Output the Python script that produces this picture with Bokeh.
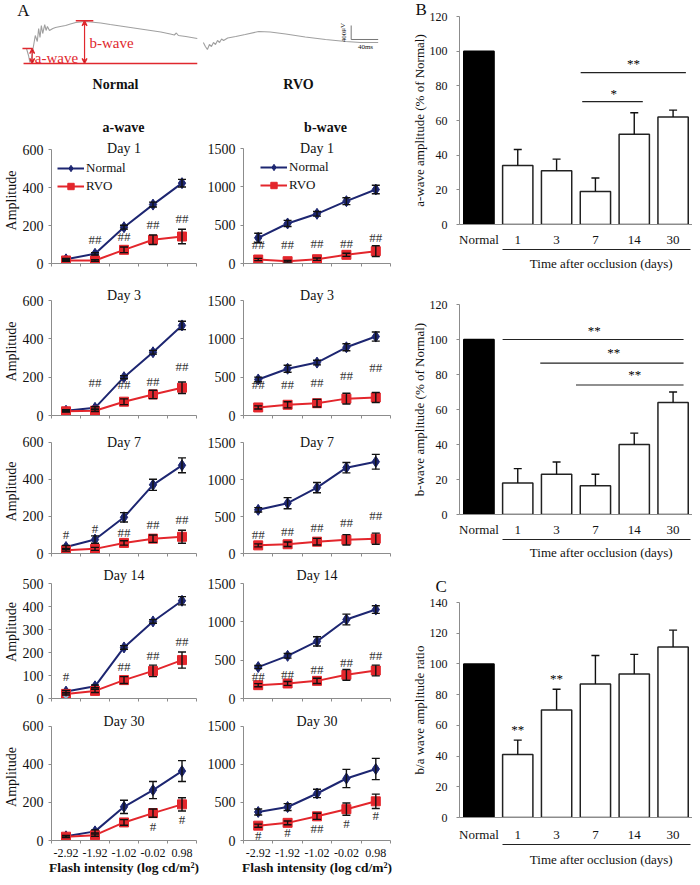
from bokeh.plotting import figure
from bokeh.layouts import row, column
from bokeh.models import (Range1d, FixedTicker, Label, Arrow, VeeHead,
                          Legend, LegendItem, LinearAxis, Title)
from bokeh.core.properties import value
from bokeh.embed import file_html
from bokeh.resources import INLINE

FONT = "Liberation Serif"
NAVY = "#1d2671"
RED = "#e3262c"
AX = "#8c8c8c"
INK = "#111111"
TRACE = "#a0a0a0"
ANNOT = "#e0282e"

# ---------------------------------------------------------------- data
intensity = ["-2.92", "-1.92", "-1.02", "-0.02", "0.98"]
days = [1, 3, 7, 14, 30]

a_normal = {1: [22, 51, 191, 310, 423], 3: [25, 40, 200, 330, 470], 7: [35, 75, 195, 370, 475],
            14: [30, 53, 222, 335, 425], 30: [22, 48, 177, 265, 365]}
a_normal_err = {1: [5, 6, 10, 13, 20], 3: [5, 6, 8, 10, 22], 7: [8, 20, 25, 30, 40],
                14: [5, 6, 8, 8, 18], 30: [5, 8, 35, 45, 55]}
a_rvo = {1: [16, 16, 72, 125, 142], 3: [22, 25, 72, 110, 145], 7: [18, 25, 57, 80, 90],
         14: [20, 33, 80, 120, 167], 30: [20, 28, 95, 144, 190]}
a_rvo_err = {1: [4, 4, 15, 25, 38], 3: [4, 5, 15, 22, 30], 7: [5, 8, 12, 20, 35],
             14: [5, 7, 15, 25, 35], 30: [5, 6, 15, 22, 35]}
a_sig = {1: ["", "##", "##", "##", "##"], 3: ["", "##", "##", "##", "##"], 7: ["#", "#", "##", "##", "##"],
         14: ["#", "", "##", "##", "##"], 30: ["", "", "", "#", "#"]}
a_sig_y = {1: [0, 126, 140, 205, 235], 3: [0, 170, 160, 180, 255], 7: [104, 135, 113, 156, 182],
           14: [94, 0, 140, 186, 249], 30: [0, 0, 0, 75, 113]}
a14_stray = [2]

b_normal = {1: [335, 522, 648, 813, 965], 3: [470, 610, 690, 890, 1030], 7: [590, 680, 890, 1160, 1240],
            14: [410, 556, 745, 1030, 1160], 30: [375, 440, 618, 815, 940]}
b_normal_err = {1: [60, 40, 30, 45, 55], 3: [30, 45, 30, 45, 60], 7: [30, 75, 70, 70, 100],
                14: [20, 30, 60, 70, 50], 30: [40, 45, 55, 120, 140]}
b_rvo = {1: [52, 30, 56, 113, 161], 3: [105, 140, 160, 220, 235], 7: [110, 125, 160, 185, 200],
         14: [174, 196, 230, 309, 365], 30: [195, 232, 318, 412, 515]}
b_rvo_err = {1: [15, 10, 15, 20, 70], 3: [20, 40, 50, 70, 65], 7: [20, 30, 45, 70, 75],
             14: [20, 25, 35, 70, 70], 30: [20, 25, 40, 80, 95]}
b_sig = {1: ["##"] * 5, 3: ["##"] * 5, 7: ["##"] * 5, 14: ["##"] * 5, 30: ["#", "#", "##", "#", "#"]}
b_sig_y = {1: [248, 248, 265, 256, 335], 3: [400, 408, 430, 528, 631], 7: [258, 294, 357, 425, 507],
           14: [283, 317, 383, 470, 557], 30: [69, 103, 155, 219, 326]}

groups = ["Normal", "1", "3", "7", "14", "30"]
a_pct = [100, 34, 31, 19, 52, 62]
a_pct_err = [0, 9.3, 6.7, 7.8, 12.5, 4]
b_pct = [100, 18, 23, 16.5, 40, 64]
b_pct_err = [0, 8.2, 7, 6.5, 6.5, 6]
ba_ratio = [100, 41, 70, 87, 93.5, 111]
ba_ratio_err = [0, 9.4, 13.5, 18.5, 12.7, 11]

# ERG traces (time in ms from flash, amplitude in microvolts)
normal_t = [0, 3, 5, 7, 10, 13, 16, 18, 20, 22, 24, 27, 29, 31, 34, 39, 43, 50, 58, 65, 73, 80, 87,
            95, 110, 124, 139, 154, 169, 184, 199, 213, 219, 222, 225, 236, 253]
normal_uv = [429, 229, 29, 114, 457, 800, 629, 1000, 743, 1086, 857, 1114, 943, 1057, 943, 1000,
             1029, 1057, 1086, 1129, 1171, 1186, 1200, 1186, 1157, 1114, 1071, 1029, 986, 943,
             900, 843, 814, 871, 800, 771, 714]
rvo_t = [262, 265, 268, 271, 274, 277, 280, 283, 286, 289, 292, 298, 310, 324, 344, 361, 384, 413,
         443, 473, 495, 521]
rvo_uv = [600, 486, 400, 543, 486, 600, 543, 657, 600, 700, 657, 729, 771, 829, 914, 900, 843,
          757, 686, 629, 600, 600]
scale_ms = 40
scale_uv = 400


def style(p, size="14px"):
    for ax in p.axis:
        ax.axis_line_color = AX
        ax.major_tick_line_color = AX
        ax.minor_tick_line_color = None
        ax.major_tick_in = 0
        ax.major_tick_out = 3
        ax.major_label_text_font = FONT
        ax.major_label_text_font_size = size
        ax.major_label_text_color = INK
        ax.axis_label_text_font = FONT
        ax.axis_label_text_font_style = "normal"
        ax.axis_label_text_color = INK
    p.xgrid.visible = False
    p.ygrid.visible = False
    p.outline_line_color = None


TOP = 3  # reference pixel row that the page content starts on

# ---------------------------------------------------------------- panel A header
PX_MS, PX_UV, X0, Y0 = 0.675, 0.035, 31.0, 66.0


def hx(px):
    return (px - X0) / PX_MS


def hy(py):
    return (Y0 - py) / PX_UV


hdr = figure(width=408, height=140 - TOP, x_range=Range1d(hx(5), hx(413)), y_range=Range1d(hy(140), hy(TOP)),
             x_axis_type=None, y_axis_type=None, min_border_left=0, min_border_right=0,
             min_border_top=0, min_border_bottom=0, output_backend="svg", toolbar_location=None)
hdr.outline_line_color = None
hdr.xgrid.visible = False
hdr.ygrid.visible = False
hdr.line(normal_t, normal_uv, line_color=TRACE, line_width=1.1)
hdr.line(rvo_t, rvo_uv, line_color=TRACE, line_width=1.1)
peak = max(normal_uv)
start = normal_uv[0]
hdr.segment(x0=[-4.4, -6, 73], y0=[0, start, peak + 20], x1=[253, 9, 99], y1=[0, start, peak + 20],
            line_color=ANNOT, line_width=1.6)
for tx, top in [(8.4, start), (86, peak + 20)]:
    hdr.add_layout(Arrow(x_start=tx, y_start=0, x_end=tx, y_end=top, line_color=ANNOT, line_width=1.2,
                         start=VeeHead(size=5, line_color=ANNOT, line_width=1.2),
                         end=VeeHead(size=5, line_color=ANNOT, line_width=1.2)))
sb_t, sb_v = 481, 686
hdr.line([sb_t, sb_t, sb_t + scale_ms], [sb_v + scale_uv, sb_v, sb_v], line_color="#777777", line_width=1)


def htext(px, py, text, size, color=INK, style="normal", angle=0.0):
    hdr.add_layout(Label(x=hx(px), y=hy(py), text=text, text_font=FONT, text_font_size=size,
                         text_font_style=style, text_color=color, text_align="center",
                         text_baseline="middle", angle=angle))


htext(28, 13, "A", "17px")
htext(61, 60, "a-wave", "15px", ANNOT)
htext(116, 45, "b-wave", "15px", ANNOT)
htext(120, 87, "Normal", "14px", style="bold")
htext(303, 87, "RVO", "14px", style="bold")
htext(348, 35, "400μV", "7px", angle=1.5708)
htext(370, 49, "40ms", "7px")
htext(128, 130, "a-wave", "14px", style="bold")
htext(330, 130, "b-wave", "14px", style="bold")

# ---------------------------------------------------------------- line panels
ROWS = {
    1: dict(top=140, bottom=290, a=(152, 266), b=(151, 266), title=151),
    3: dict(top=290, bottom=432, a=(303, 418), b=(303, 418), title=298),
    7: dict(top=432, bottom=568, a=(445, 560), b=(445, 556), title=445),
    14: dict(top=568, bottom=716, a=(586, 701), b=(586, 701), title=578),
    30: dict(top=716, bottom=880, a=(729, 844), b=(729, 844), title=724),
}
xs = [1, 2, 3, 4, 5]
bounds_x = [0.5, 1.5, 2.5, 3.5, 4.5, 5.5]


def line_panel(day, wave):
    g = ROWS[day]
    if wave == "a":
        fx0, fx1, x0, x1 = 5, 205, 52, 201
        nv, ne, rv, re_, sg, sy = a_normal[day], a_normal_err[day], a_rvo[day], a_rvo_err[day], a_sig[day], a_sig_y[day]
        ymax, step = (500, 100) if day == 14 else (600, 200)
        leg_dx = 6
    else:
        fx0, fx1, x0, x1 = 205, 413, 248, 395
        nv, ne, rv, re_, sg, sy = b_normal[day], b_normal_err[day], b_rvo[day], b_rvo_err[day], b_sig[day], b_sig_y[day]
        ymax, step = 1500, 500
        leg_dx = 17
    ft, fb = g[wave]
    fh = fb - ft
    per_px = ymax / fh
    ytop = ymax + (ft - g["top"]) * per_px
    p = figure(width=fx1 - fx0, height=g["bottom"] - g["top"], x_range=Range1d(0.5, 5.5),
               y_range=Range1d(0, ytop), min_border_left=x0 - fx0, min_border_right=fx1 - x1,
               min_border_top=0, min_border_bottom=g["bottom"] - fb,
               output_backend="svg", toolbar_location=None)
    ln = p.line(xs, nv, line_color=NAVY, line_width=2)
    mn = p.scatter(xs, nv, marker="diamond", size=11, fill_color=NAVY, line_color=NAVY)
    lr = p.line(xs, rv, line_color=RED, line_width=2)
    mr = p.scatter(xs, rv, marker="square", size=9, fill_color=RED, line_color=RED)
    if wave == "a" and day == 14:
        p.scatter([1], a14_stray, marker="x", size=7, line_color="#7cc8e6", line_width=1.5)
    for vals, errs in [(nv, ne), (rv, re_)]:
        lo = [v - e for v, e in zip(vals, errs)]
        hi = [v + e for v, e in zip(vals, errs)]
        p.segment(x0=xs, y0=lo, x1=xs, y1=hi, line_color=INK, line_width=1.4)
        p.scatter(xs + xs, lo + hi, marker="dash", size=8, line_color=INK, line_width=1.4)
    mx = [x for x, s in zip(xs, sg) if s]
    my = [y for y, s in zip(sy, sg) if s]
    mt = [s for s in sg if s]
    p.text(mx, my, text=mt, text_font=value(FONT), text_font_size=value("13px"), text_color="#333333",
           text_align="center", text_baseline="middle")
    style(p)
    ya = p.yaxis[0]
    ya.ticker = FixedTicker(ticks=list(range(0, ymax + 1, step)))
    ya.bounds = (0, ymax)
    ya.major_label_standoff = 5
    if wave == "a":
        ya.axis_label = "Amplitude"
        ya.axis_label_text_font_size = "14px"
        ya.axis_label_standoff = 1
    xa = p.xaxis[0]
    xa.minor_tick_out = 3
    xa.minor_tick_in = 0
    xa.minor_tick_line_color = AX
    if day == 30:
        xa.ticker = FixedTicker(ticks=xs, minor_ticks=bounds_x)
        xa.major_label_overrides = {x: lab for x, lab in zip(xs, intensity)}
        xa.major_tick_out = 0
        xa.major_label_text_font_size = "12px"
        xa.major_label_standoff = 5
        xa.axis_label = "Flash intensity (log cd/m²)"
        xa.axis_label_text_font_style = "bold"
        xa.axis_label_text_font_size = "13.5px"
        xa.axis_label_standoff = 0
    else:
        xa.ticker = FixedTicker(ticks=[], minor_ticks=bounds_x)
        xa.major_tick_out = 3
    p.add_layout(Label(x=3, y=ymax + (ft - g["title"]) * per_px, text=f"Day {day}", text_font=FONT,
                       text_font_size="14px", text_color=INK, text_align="center", text_baseline="middle"))
    if day == 1:
        leg = Legend(items=[LegendItem(label="Normal", renderers=[ln, mn]),
                            LegendItem(label="RVO", renderers=[lr, mr])],
                     location=(leg_dx, fh - 11 - 34), padding=0, margin=0, spacing=2,
                     glyph_width=27, glyph_height=16, label_height=16, label_standoff=2,
                     label_text_font=FONT, label_text_font_size="13px", label_text_color=INK,
                     background_fill_alpha=0, border_line_color=None)
        p.add_layout(leg)
    return p


left_rows = [row(line_panel(d, "a"), line_panel(d, "b")) for d in days]
left = column(hdr, *left_rows)

# ---------------------------------------------------------------- bar panels
U = 100  # width of one category slot on the bar charts' numeric x scale
slots = [U * i + U // 2 for i in range(len(groups))]


def bar_panel(vals, errs, top, bottom, f_top, f_bot, ymax, ylabel, cat_standoff, gap, title_standoff):
    p = figure(width=284, height=bottom - top, x_range=Range1d(0, U * len(groups)),
               y_range=Range1d(0, ymax), min_border_left=46, min_border_right=0,
               min_border_top=f_top - top, min_border_bottom=bottom - f_bot,
               output_backend="svg", toolbar_location=None)
    fills = ["#000000"] + ["#ffffff"] * 5
    outl = ["#000000"] + ["#222222"] * 5
    p.vbar(x=slots, top=vals, width=0.78 * U, fill_color=fills, line_color=outl, line_width=1.5)
    ex = [s for s, e in zip(slots, errs) if e > 0]
    lo = [v for v, e in zip(vals, errs) if e > 0]
    hi = [v + e for v, e in zip(vals, errs) if e > 0]
    p.segment(x0=ex, y0=lo, x1=ex, y1=hi, line_color=INK, line_width=1.4)
    p.scatter(x=ex, y=hi, marker="dash", size=8, line_color=INK, line_width=1.4)
    style(p, "12px")
    # spacer axis and the underlined group caption below the category labels
    spacer = LinearAxis(ticker=FixedTicker(ticks=[]), axis_line_color=None,
                        major_tick_out=gap, major_tick_in=0, major_tick_line_color=None,
                        minor_tick_line_color=None)
    caption = LinearAxis(ticker=FixedTicker(ticks=[365]), bounds=(110, 595),
                         major_label_overrides={365: "Time after occlusion (days)"},
                         major_tick_out=0, major_tick_in=0, major_tick_line_color=None,
                         minor_tick_line_color=None,
                         axis_line_color="#222222", axis_line_width=1.2,
                         major_label_standoff=title_standoff, major_label_text_font=FONT,
                         major_label_text_font_size="13px", major_label_text_color=INK)
    p.add_layout(spacer, "below")
    p.add_layout(caption, "below")
    p.yaxis.ticker = FixedTicker(ticks=list(range(0, ymax + 1, 20)))
    p.yaxis.major_label_standoff = 9
    p.yaxis.axis_label = ylabel
    p.yaxis.axis_label_text_font_size = "13px"
    p.yaxis.axis_label_standoff = 0
    cat = p.xaxis[0]
    cat.ticker = FixedTicker(ticks=slots)
    cat.major_label_overrides = {s: g for s, g in zip(slots, groups)}
    cat.major_tick_line_color = None
    cat.major_tick_out = 0
    cat.major_label_text_font_size = "13px"
    cat.major_label_standoff = cat_standoff
    return p


def stars(p, x, y, t):
    p.text([U * v for v in x], y, text=t, text_font=value(FONT), text_font_size=value("13px"),
           text_color="#000000", text_align="center", text_baseline="middle")


def bracket(p, x0, x1, y):
    p.segment(x0=[U * v for v in x0], y0=y, x1=[U * v for v in x1], y1=y, line_color="#222222", line_width=1.2)


def letter(p, text, offset, standoff):
    p.add_layout(Title(text=text, align="left", offset=offset, standoff=standoff, text_font=FONT,
                       text_font_size="17px", text_font_style="normal", text_color=INK), "above")


pa = bar_panel(a_pct, a_pct_err, TOP, 290, 17, 227, 120, "a-wave amplitude (% of Normal)", 7, 6, 6)
bracket(pa, [3.12, 3.16], [5.83, 4.72], [87.6, 70.9])
stars(pa, [4.48, 3.97], [92.7, 75.5], ["**", "*"])
letter(pa, "B", -44, -5)

pb = bar_panel(b_pct, b_pct_err, 290, 570, 307, 517, 120, "b-wave amplitude (% of Normal)", 7, 6, 5)
bracket(pb, [1.11, 2.08, 3.0], [5.77, 5.77, 5.77], [100, 86.5, 74])
stars(pb, [3.47, 3.97, 4.51], [105, 92.4, 79.8], ["**", "**", "**"])

pc = bar_panel(ba_ratio, ba_ratio_err, 570, 880, 603, 820, 140, "b/a wave amplitude ratio", 9, 2, 7)
stars(pc, [1.5, 2.5], [57.5, 90.6], ["**", "**"])
letter(pc, "C", -24, 14)

right = column(pa, pb, pc)
layout = row(left, right)

open("out.html", "w").write(file_html(layout, INLINE))
